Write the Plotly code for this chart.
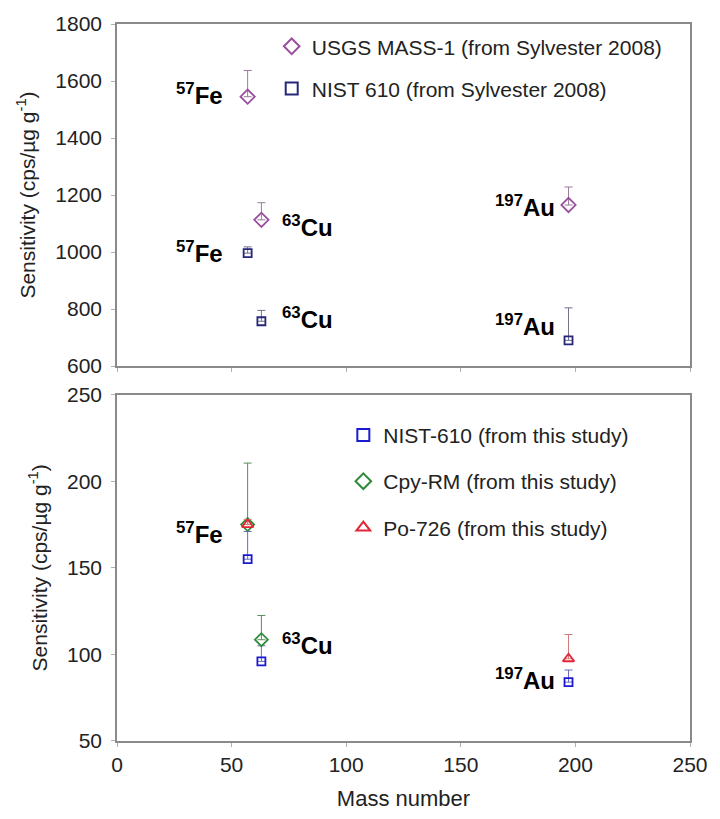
import plotly.graph_objects as go
from plotly.subplots import make_subplots

# ---- data ----
mass = [57, 63, 197]
iso_labels = ["<sup>57</sup>Fe", "<sup>63</sup>Cu", "<sup>197</sup>Au"]

usgs_val = [1545, 1113, 1165]
usgs_err = [92, 60, 63]
nist_syl_val = [996, 757, 690]
nist_syl_err = [22, 38, 114]

nist_val = [155, 96, 84]
nist_err = [16, 9, 7]
cpy_mass = [57, 63]
cpy_val = [175, 108.5]
cpy_err = [35.5, 14]
po_mass = [57, 197]
po_val = [175, 97.5]
po_err = [3, 14]

# label positions (data units)
top_label_x = [36, 83, 178, 36, 83, 178]
top_label_y = [1553, 1090, 1162, 1000, 770, 743]
top_label_t = [iso_labels[0], iso_labels[1], iso_labels[2], iso_labels[0], iso_labels[1], iso_labels[2]]
bot_label_x = [36, 83, 178]
bot_label_y = [170, 106, 86]

fig = make_subplots(rows=2, cols=1, vertical_spacing=0.04)

font = "Liberation Sans, Arial, sans-serif"
purple = "#9a4f9e"
navy = "#26267a"
blue = "#1a1ad0"
green = "#2e8b3a"
red = "#e32636"

def add(x, y, err, name, sym, color, size, row, legend, ecolor):
    fig.add_trace(go.Scatter(
        x=x, y=y, mode="markers", name=name, legend=legend, legendgroup=name,
        marker=dict(symbol=sym, size=size, color=color, line=dict(color=color, width=1.8)),
        error_y=dict(type="data", array=err, arrayminus=[0] * len(err), symmetric=False,
                     color=ecolor, thickness=1, width=4),
    ), row=row, col=1)

add(mass, usgs_val, usgs_err, "USGS MASS-1 (from Sylvester 2008)", "diamond-open", purple, 11, 1, "legend", "#9a7a9a")
add(mass, nist_syl_val, nist_syl_err, "NIST 610 (from Sylvester 2008)", "square-open", navy, 8, 1, "legend", "#70708a")
add(mass, nist_val, nist_err, "NIST-610 (from this study)", "square-open", blue, 8, 2, "legend2", "#6a6ac0")
add(cpy_mass, cpy_val, cpy_err, "Cpy-RM (from this study)", "diamond-open", green, 10, 2, "legend2", "#5a8a5a")
add(po_mass, po_val, po_err, "Po-726 (from this study)", "triangle-up-open", red, 10, 2, "legend2", "#d07a7a")

for x, y, t in zip(top_label_x, top_label_y, top_label_t):
    fig.add_annotation(x=x, y=y, text="<b>" + t + "</b>", showarrow=False,
                       font=dict(size=24, family=font, color="black"), row=1, col=1)
for x, y, t in zip(bot_label_x, bot_label_y, iso_labels):
    fig.add_annotation(x=x, y=y, text="<b>" + t + "</b>", showarrow=False,
                       font=dict(size=24, family=font, color="black"), row=2, col=1)

axis_common = dict(showline=True, linecolor="#8a8a8a", linewidth=1.5, mirror=True,
                   ticks="outside", ticklen=4, tickcolor="#b0b0b0", showgrid=False, zeroline=False,
                   tickfont=dict(size=21, family=font, color="#222"), ticklabeloverflow="allow")

ytitle = dict(text="Sensitivity (cps/µg g<sup>-1</sup>)", font=dict(size=21, family=font, color="#222"), standoff=14)

fig.update_xaxes(range=[0, 250], dtick=50, **axis_common)
fig.update_xaxes(showticklabels=False, row=1, col=1)
fig.update_xaxes(title=dict(text="Mass number", font=dict(size=22, family=font, color="#222"), standoff=16), row=2, col=1)
fig.update_yaxes(ticklabelstandoff=5, **axis_common)
fig.update_yaxes(range=[600, 1800], dtick=200, row=1, col=1, title=ytitle)
fig.update_yaxes(range=[50, 250], dtick=50, row=2, col=1, title=ytitle)

fig.update_layout(
    width=720, height=819,
    margin=dict(l=117, r=18, t=14, b=76),
    plot_bgcolor="white", paper_bgcolor="white",
    font=dict(family=font),
    yaxis=dict(domain=[0.523, 1.0]),
    yaxis2=dict(domain=[0.0, 0.483]),
    legend=dict(x=0.27, y=0.997, xanchor="left", yanchor="top", bgcolor="rgba(0,0,0,0)",
                font=dict(size=21, family=font, color="#222"), traceorder="grouped",
                tracegroupgap=12, itemwidth=30, itemsizing="constant"),
    legend2=dict(x=0.395, y=0.455, xanchor="left", yanchor="top", bgcolor="rgba(0,0,0,0)",
                 font=dict(size=21, family=font, color="#222"), traceorder="grouped",
                 tracegroupgap=16, itemwidth=30, itemsizing="constant"),
    showlegend=True,
)

fig.write_html("out.html", config={"displayModeBar": False},
               post_script="document.body.style.margin='0';document.body.style.overflow='hidden';")
